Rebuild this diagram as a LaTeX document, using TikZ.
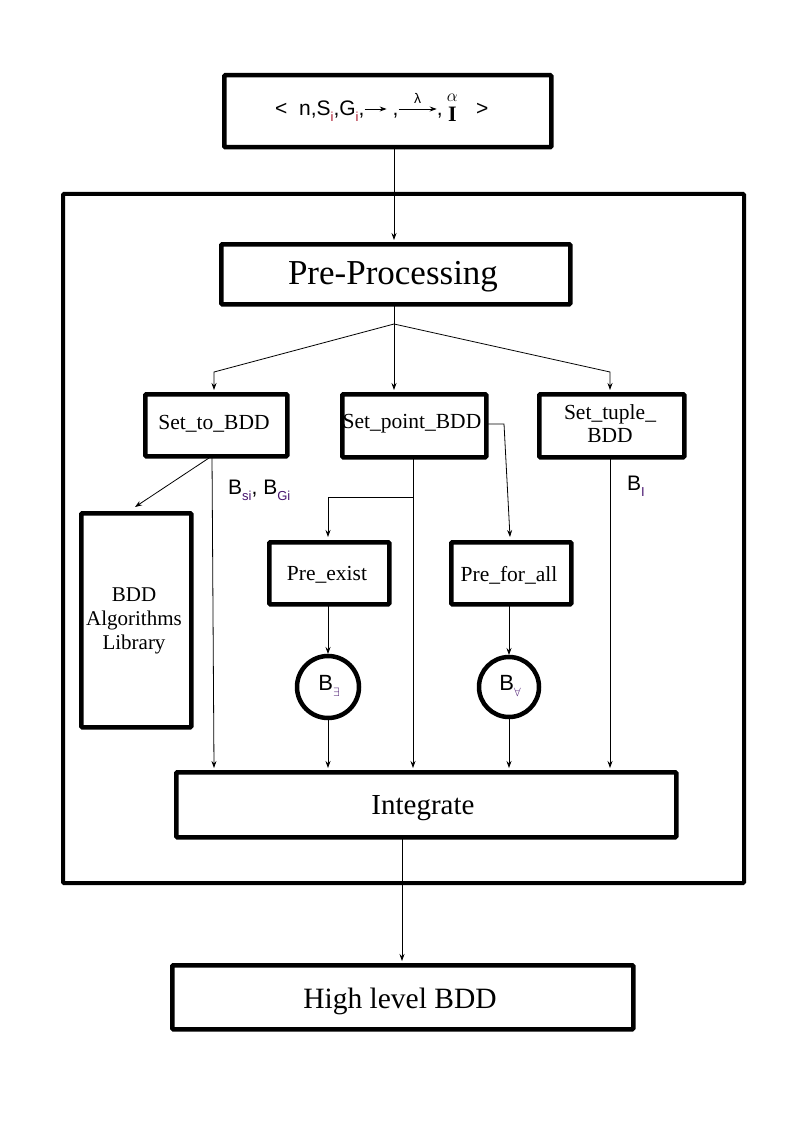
\documentclass[tikz,border=0pt]{standalone}
\usepackage{amsmath}
\usepackage{fontspec}
\setmainfont{Liberation Serif}
\setsansfont{Liberation Sans}
\usetikzlibrary{arrows.meta}
\definecolor{subred}{RGB}{170,20,40}
\definecolor{subpur}{RGB}{70,20,110}
\newcommand{\lowsub}[2][subpur]{\raisebox{-6pt}{\fontsize{13}{13}\selectfont\color{#1}#2}}
\begin{document}
\begin{tikzpicture}[x=1pt,y=-1pt,
  box/.style={draw,line width=4.5pt,rounded corners=1pt,inner sep=0pt},
  conn/.style={line width=0.8pt},
  arr/.style={conn,-{Stealth[length=7pt,width=5pt]}},
  arrsm/.style={line width=0.9pt,-{Stealth[length=7pt,width=5pt]}},
  lbl/.style={font=\sffamily\fontsize{21}{22}\selectfont},
  topf/.style={font=\sffamily\fontsize{21}{22}\selectfont,inner sep=0pt,anchor=base west},
  btxt/.style={font=\fontsize{21.5}{23}\selectfont,align=center}]
\useasboundingbox (0,0) rectangle (794,1123);
% outer frame
\node[box,line width=4pt,minimum width=681pt,minimum height=689pt,anchor=north west] (frame) at (61,192) {};
% top box
\node[box,minimum width=327pt,minimum height=72pt,anchor=north west] (top) at (222,73) {};
\node[topf] (q1) at (275,116) {<\ \ n,S\lowsub[subred]{i},G\lowsub[subred]{i},};
\coordinate (qa0) at ([yshift=7pt]q1.base east);
\coordinate (qa1) at ([xshift=22pt]qa0);
\draw[arrsm] (qa0) -- (qa1);
\node[topf] (q2) at ([xshift=22pt]q1.base east) {\ ,};
\coordinate (qb0) at ([yshift=7pt]q2.base east);
\coordinate (qb1) at ([xshift=38pt]qb0);
\draw[arrsm] (qb0) -- (qb1);
\node[font=\sffamily\fontsize{14}{14}\selectfont,inner sep=0pt] (lam) at ([xshift=19pt,yshift=11pt]qb0) {λ};
\node[topf] (q3) at ([xshift=38pt]q2.base east) {,};
\node[font=\bfseries\fontsize{22}{22}\selectfont,inner sep=0pt,anchor=base west] (q4) at ([xshift=5pt,yshift=-6pt]q3.base east) {I};
\node[font=\fontsize{17}{17}\selectfont,inner sep=0pt] (alp) at ([yshift=24pt]q4.base) {$\alpha$};
\node[topf] (q5) at (476,116) {>};
% pre-processing
\node[box,minimum width=349pt,minimum height=60pt,anchor=north west] (pre) at (219,242) {};
\node[font=\fontsize{35}{36}\selectfont] (pretext) at (393,277) {Pre-Processing};
% second row
\node[box,minimum width=142pt,minimum height=62pt,anchor=north west] (s1) at (143,392) {};
\node[btxt] (s1t) at (214,424) {Set\_to\_BDD};
\node[box,minimum width=144pt,minimum height=63pt,anchor=north west] (s2) at (340,392) {};
\node[btxt] (s2t) at (412,424) {Set\_point\_BDD};
\node[box,minimum width=145pt,minimum height=63pt,anchor=north west] (s3) at (537,392) {};
\node[btxt] (s3t) at (610,424) {Set\_tuple\_\\BDD};
% library
\node[box,minimum width=110pt,minimum height=214pt,anchor=north west] (lib) at (79,511) {};
\node[font=\fontsize{21}{24}\selectfont,align=center] (libt) at (134,621) {BDD\\Algorithms\\Library};
% pre exist / for all
\node[box,minimum width=120pt,minimum height=62pt,anchor=north west] (pe) at (267,540) {};
\node[btxt] (pet) at (327,575) {Pre\_exist};
\node[box,minimum width=120pt,minimum height=62pt,anchor=north west] (pa) at (449,540) {};
\node[btxt] (pat) at (509,575) {Pre\_for\_all};
% circles
\node[draw,circle,line width=4.5pt,minimum size=62pt,inner sep=0pt] (ce) at (328,687) {};
\node[lbl,font=\sffamily\fontsize{22}{22}\selectfont] (cet) at (329,686) {B\lowsub{$\exists$}};
\node[draw,circle,line width=4.5pt,minimum size=60pt,inner sep=0pt] (ca) at (509,687) {};
\node[lbl,font=\sffamily\fontsize{22}{22}\selectfont] (cat) at (510,686) {B\lowsub{$\forall$}};
% integrate
\node[box,minimum width=500pt,minimum height=65pt,anchor=north west] (int) at (174,770) {};
\node[font=\fontsize{29}{30}\selectfont] (intt) at (423,808) {Integrate};
% high level
\node[box,minimum width=461pt,minimum height=64pt,anchor=north west] (hl) at (170,963) {};
\node[font=\fontsize{29.5}{30}\selectfont] (hlt) at (400,1001) {High level BDD};
% labels
\node[lbl,anchor=base west,inner sep=0pt] (lb1) at (228,494) {B\lowsub{si}, B\lowsub{Gi}};
\node[lbl,anchor=base west,inner sep=0pt] (lb2) at (627,490) {B\lowsub{I}};
% connectors
\coordinate (t0) at (394,147);
\coordinate (t1) at (394,240);
\draw[arr] (t0) -- (t1);
\coordinate (p0) at (394,304);
\coordinate (p1) at (394,324);
\coordinate (l1) at (214,372);
\coordinate (l2) at (214,390);
\coordinate (r1) at (610,372);
\coordinate (r2) at (610,390);
\coordinate (m2) at (394,390);
\draw[conn] (p0) -- (p1);
\draw[arr] (p1) -- (l1) -- (l2);
\draw[arr] (p1) -- (m2);
\draw[arr] (p1) -- (r1) -- (r2);
% Set_to_BDD outputs
\coordinate (a0) at (212,456);
\coordinate (a1) at (135,507);
\coordinate (a2) at (214,768);
\draw[arr] (a0) -- (a1);
\draw[arr] (a0) -- (a2);
% Set_point_BDD outputs
\coordinate (b0) at (413,457);
\coordinate (b1) at (413,497);
\coordinate (b2) at (413,768);
\coordinate (b3) at (328,497);
\coordinate (b4) at (328,537);
\draw[arr] (b0) -- (b2);
\draw[arr] (b1) -- (b3) -- (b4);
\coordinate (c0) at (486,424);
\coordinate (c1) at (504,424);
\coordinate (c2) at (510,537);
\draw[arr] (c0) -- (c1) -- (c2);
% to circles
\coordinate (e0) at (328,604);
\coordinate (e1) at (328,654);
\draw[arr] (e0) -- (e1);
\coordinate (f0) at (509,604);
\coordinate (f1) at (509,655);
\draw[arr] (f0) -- (f1);
\coordinate (e2) at (328,720);
\coordinate (e3) at (328,768);
\draw[arr] (e2) -- (e3);
\coordinate (f2) at (509,719);
\coordinate (f3) at (509,768);
\draw[arr] (f2) -- (f3);
% Set_tuple output
\coordinate (g0) at (610,457);
\coordinate (g1) at (610,768);
\draw[arr] (g0) -- (g1);
% integrate to high level
\coordinate (h0) at (402,837);
\coordinate (h1) at (402,961);
\draw[arr] (h0) -- (h1);
\end{tikzpicture}
\end{document}
